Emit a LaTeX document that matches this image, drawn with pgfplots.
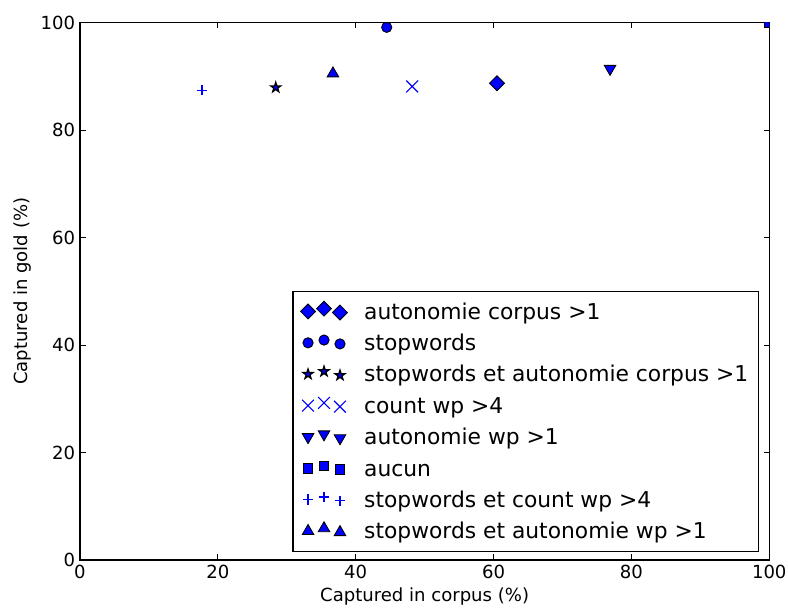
\documentclass[border=0pt]{standalone}
\usepackage{fontspec}
\setmainfont{DejaVu Sans}
\usepackage{pgfplots}
\pgfplotsset{compat=1.18}

\definecolor{mplblue}{rgb}{0,0,1}

% filled five-pointed star marker
\pgfdeclareplotmark{fstar}{%
  \pgfpathmoveto{\pgfpointpolar{90}{\pgfplotmarksize}}%
  \pgfpathlineto{\pgfpointpolar{126}{0.382\pgfplotmarksize}}%
  \pgfpathlineto{\pgfpointpolar{162}{\pgfplotmarksize}}%
  \pgfpathlineto{\pgfpointpolar{198}{0.382\pgfplotmarksize}}%
  \pgfpathlineto{\pgfpointpolar{234}{\pgfplotmarksize}}%
  \pgfpathlineto{\pgfpointpolar{270}{0.382\pgfplotmarksize}}%
  \pgfpathlineto{\pgfpointpolar{306}{\pgfplotmarksize}}%
  \pgfpathlineto{\pgfpointpolar{342}{0.382\pgfplotmarksize}}%
  \pgfpathlineto{\pgfpointpolar{18}{\pgfplotmarksize}}%
  \pgfpathlineto{\pgfpointpolar{54}{0.382\pgfplotmarksize}}%
  \pgfpathclose
  \pgfusepathqfillstroke
}

\newcommand{\entry}[1]{\strut#1}

\begin{document}
\begin{tikzpicture}
\begin{axis}[
  scale only axis,
  width=496.3pt, height=387pt,
  xmin=0, xmax=100, ymin=0, ymax=100,
  xtick={0,20,...,100}, ytick={0,20,...,100},
  tick align=inside,
  major tick length=4pt,
  tick style={black, line width=0.6pt},
  axis line style={black, line width=0.9pt},
  ticklabel style={font=\fontsize{13}{15}\selectfont},
  /pgf/number format/assume math mode=true,
  xlabel={Captured in corpus (\%)},
  ylabel={Captured in gold (\%)},
  label style={font=\fontsize{13}{15}\selectfont},
  legend cell align=left,
  legend style={at={(axis description cs:1,0)}, anchor=south east,
    xshift=-7.2pt, yshift=5.8pt, draw=black, line width=0.8pt,
    font=\fontsize{15.7}{18}\selectfont, row sep=4.5pt,
    inner xsep=5.5pt, inner ysep=5.5pt},
  legend image code/.code={%
    \draw[only marks] plot coordinates {(0pt,0pt)(11.5pt,2pt)(23pt,-0.8pt)};
    \path (38pt,0pt);},
  clip marker paths=true,
]
\addplot[only marks, mark=square*, mark size=3.8pt,
  mark options={rotate=45, fill=mplblue, draw=black, line width=0.6pt}]
  coordinates {(60.5,88.7)};
\addlegendentry{\entry{autonomie corpus >1}}
\addplot[only marks, mark=*, mark size=3.7pt,
  mark options={fill=mplblue, draw=black, line width=0.6pt}]
  coordinates {(44.5,99.1)};
\addlegendentry{\entry{stopwords}}
\addplot[only marks, mark=fstar, mark size=3.8pt,
  mark options={fill=mplblue, draw=black, line width=0.9pt}]
  coordinates {(28.4,87.9)};
\addlegendentry{\entry{stopwords et autonomie corpus >1}}
\addplot[only marks, mark=x, mark size=6pt,
  mark options={draw=mplblue, line width=0.8pt}]
  coordinates {(48.2,88.1)};
\addlegendentry{\entry{count wp >4}}
\addplot[only marks, mark=triangle*, mark size=4.8pt,
  mark options={rotate=180, fill=mplblue, draw=black, line width=0.6pt}]
  coordinates {(76.9,91.4)};
\addlegendentry{\entry{autonomie wp >1}}
\addplot[only marks, mark=square*, mark size=3.3pt,
  mark options={fill=mplblue, draw=black, line width=0.6pt}]
  coordinates {(100,100)};
\addlegendentry{\entry{aucun}}
\addplot[only marks, mark=+, mark size=3.8pt,
  mark options={draw=mplblue, line width=0.8pt}]
  coordinates {(17.7,87.4)};
\addlegendentry{\entry{stopwords et count wp >4}}
\addplot[only marks, mark=triangle*, mark size=4.8pt,
  mark options={fill=mplblue, draw=black, line width=0.6pt}]
  coordinates {(36.7,90.5)};
\addlegendentry{\entry{stopwords et autonomie wp >1}}
\end{axis}
\pgfresetboundingbox
\path[use as bounding box]
  ([shift={(-57.6pt,-38.2pt)}]current axis.south west) rectangle
  ([shift={(13.5pt,16.2pt)}]current axis.north east);
\end{tikzpicture}
\end{document}
